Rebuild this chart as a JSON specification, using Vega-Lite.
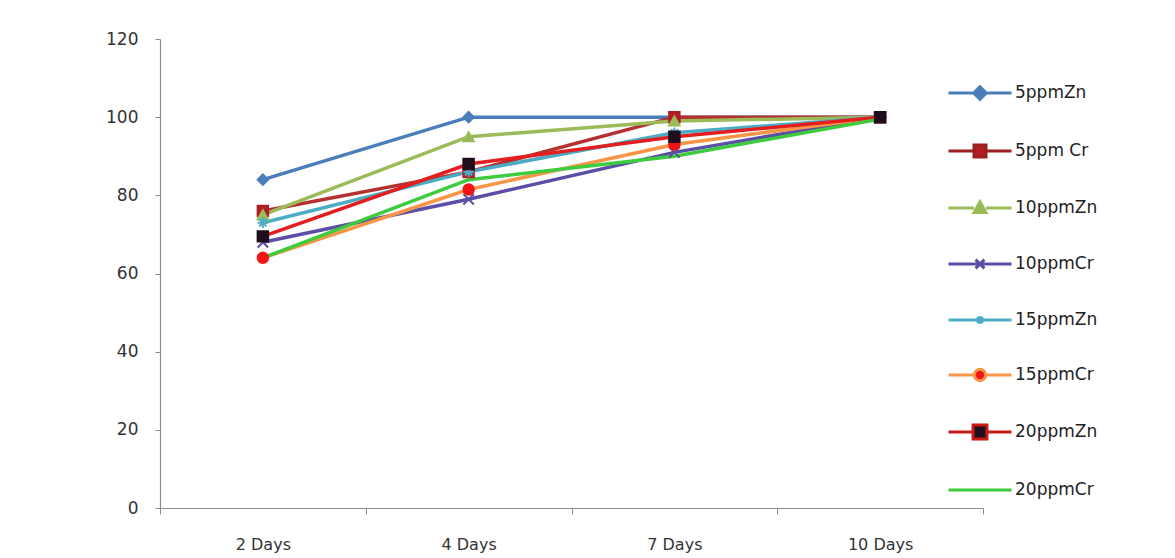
{
  "$schema": "https://vega.github.io/schema/vega-lite/v6.json",
  "autosize": {"type": "none"},
  "width": 823,
  "height": 469,
  "padding": {"left": 160, "top": 39, "right": 192, "bottom": 50},
  "background": "#ffffff",
  "config": {
    "view": {"stroke": null},
    "font": "DejaVu Sans",
    "axis": {"labelFont": "DejaVu Sans", "labelColor": "#333333", "domainColor": "#8c8c8c", "tickColor": "#8c8c8c", "grid": false, "title": null},
    "legend": {"symbolOpacity": 1}
  },
  "data": {
    "values": [
      {"series": "5ppmZn", "day": "2 Days", "value": 84},
      {"series": "5ppmZn", "day": "4 Days", "value": 100},
      {"series": "5ppmZn", "day": "7 Days", "value": 100},
      {"series": "5ppmZn", "day": "10 Days", "value": 100},
      {"series": "5ppm Cr", "day": "2 Days", "value": 76},
      {"series": "5ppm Cr", "day": "4 Days", "value": 86},
      {"series": "5ppm Cr", "day": "7 Days", "value": 100},
      {"series": "5ppm Cr", "day": "10 Days", "value": 100},
      {"series": "10ppmZn", "day": "2 Days", "value": 75},
      {"series": "10ppmZn", "day": "4 Days", "value": 95},
      {"series": "10ppmZn", "day": "7 Days", "value": 99},
      {"series": "10ppmZn", "day": "10 Days", "value": 100},
      {"series": "10ppmCr", "day": "2 Days", "value": 68},
      {"series": "10ppmCr", "day": "4 Days", "value": 79},
      {"series": "10ppmCr", "day": "7 Days", "value": 91},
      {"series": "10ppmCr", "day": "10 Days", "value": 100},
      {"series": "15ppmZn", "day": "2 Days", "value": 73},
      {"series": "15ppmZn", "day": "4 Days", "value": 86},
      {"series": "15ppmZn", "day": "7 Days", "value": 96},
      {"series": "15ppmZn", "day": "10 Days", "value": 100},
      {"series": "15ppmCr", "day": "2 Days", "value": 64},
      {"series": "15ppmCr", "day": "4 Days", "value": 81.5},
      {"series": "15ppmCr", "day": "7 Days", "value": 93},
      {"series": "15ppmCr", "day": "10 Days", "value": 100},
      {"series": "20ppmZn", "day": "2 Days", "value": 69.5},
      {"series": "20ppmZn", "day": "4 Days", "value": 88},
      {"series": "20ppmZn", "day": "7 Days", "value": 95},
      {"series": "20ppmZn", "day": "10 Days", "value": 100},
      {"series": "20ppmCr", "day": "2 Days", "value": 64},
      {"series": "20ppmCr", "day": "4 Days", "value": 84},
      {"series": "20ppmCr", "day": "7 Days", "value": 90},
      {"series": "20ppmCr", "day": "10 Days", "value": 99.5}
    ]
  },
  "encoding": {
    "x": {
      "field": "day", "type": "ordinal", "bandPosition": 0.5,
      "sort": ["2 Days", "4 Days", "7 Days", "10 Days"],
      "scale": {"type": "band", "paddingInner": 0, "paddingOuter": 0},
      "axis": {"labelAngle": 0, "tickBand": "extent", "tickSize": 6, "labelPadding": 22, "labelFontSize": 16, "domainWidth": 1.2}
    },
    "y": {
      "field": "value", "type": "quantitative",
      "scale": {"domain": [0, 120], "nice": false, "zero": true},
      "axis": {"values": [0, 20, 40, 60, 80, 100, 120], "tickSize": 5, "labelPadding": 17, "labelFontSize": 17, "domainWidth": 1.2}
    }
  },
  "layer": [
    {
      "mark": {"type": "line", "strokeWidth": 3.5},
      "encoding": {
        "stroke": {
          "field": "series", "type": "nominal", "legend": null,
          "scale": {
            "domain": ["5ppmZn", "5ppm Cr", "10ppmZn", "10ppmCr", "15ppmZn", "15ppmCr", "20ppmZn", "20ppmCr"],
            "range": ["#4a7ebb", "#b5312f", "#9bbb59", "#5b4ea6", "#4bacc6", "#f79646", "#e41e1e", "#3dcc3d"]
          }
        }
      }
    },
    {
      "transform": [{"filter": "datum.series !== '20ppmCr'"}],
      "mark": {"type": "point", "filled": true, "size": 110, "strokeWidth": 2, "opacity": 1},
      "encoding": {
        "fill": {
          "field": "series", "type": "nominal", "legend": null,
          "scale": {
            "domain": ["5ppmZn", "5ppm Cr", "10ppmZn", "10ppmCr", "15ppmZn", "15ppmCr", "20ppmZn", "20ppmCr"],
            "range": ["#4a7ebb", "#b01e23", "#9bbb59", "#5b4ea6", "#4bacc6", "#f51414", "#1e0e1e", "#3dcc3d"]
          }
        },
        "stroke": {
          "field": "series", "type": "nominal", "legend": null,
          "scale": {
            "domain": ["5ppmZn", "5ppm Cr", "10ppmZn", "10ppmCr", "15ppmZn", "15ppmCr", "20ppmZn", "20ppmCr"],
            "range": ["#4a7ebb", "#b01e23", "#9bbb59", "#5b4ea6", "#4bacc6", "#f51414", "#1e0e1e", "#3dcc3d"]
          }
        },
        "shape": {
          "field": "series", "type": "nominal", "legend": null,
          "scale": {
            "domain": ["5ppmZn", "5ppm Cr", "10ppmZn", "10ppmCr", "15ppmZn", "15ppmCr", "20ppmZn", "20ppmCr"],
            "range": ["diamond", "square", "triangle-up", "M-1,-1L1,1M-1,1L1,-1", "M-1,0H1M0,-1V1M-0.7,-0.7L0.7,0.7M-0.7,0.7L0.7,-0.7", "circle", "square", "circle"]
          }
        }
      }
    },
    {
      "transform": [{"filter": "datum.value < 0"}],
      "mark": {"type": "point", "filled": true, "strokeWidth": 3, "opacity": 1},
      "encoding": {
        "fill": {
          "field": "series", "type": "nominal",
          "scale": {
            "domain": ["5ppmZn", "5ppm Cr", "10ppmZn", "10ppmCr", "15ppmZn", "15ppmCr", "20ppmZn", "20ppmCr"],
            "range": ["#4a7ebb", "#b01e23", "#9bbb59", "#5b4ea6", "#4bacc6", "#f51414", "#1e0e1e", "#3dcc3d"]
          },
          "legend": {"orient": "none", "legendX": 787, "legendY": 21, "title": null, "symbolSize": 3969, "symbolStrokeWidth": 3, "symbolOpacity": 1, "labelFontSize": 17, "labelFont": "DejaVu Sans", "labelColor": "#222222", "rowPadding": 12, "labelOffset": 2}
        },
        "stroke": {
          "field": "series", "type": "nominal",
          "scale": {
            "domain": ["5ppmZn", "5ppm Cr", "10ppmZn", "10ppmCr", "15ppmZn", "15ppmCr", "20ppmZn", "20ppmCr"],
            "range": ["#4a7ebb", "#9e1f1f", "#9bbb59", "#5b4ea6", "#4bacc6", "#f79646", "#c81818", "#3dcc3d"]
          },
          "legend": {"orient": "none", "legendX": 787, "legendY": 21, "title": null, "symbolSize": 3969, "symbolStrokeWidth": 3, "symbolOpacity": 1, "labelFontSize": 17, "labelFont": "DejaVu Sans", "labelColor": "#222222", "rowPadding": 12, "labelOffset": 2}
        },
        "shape": {
          "field": "series", "type": "nominal",
          "scale": {
            "domain": ["5ppmZn", "5ppm Cr", "10ppmZn", "10ppmCr", "15ppmZn", "15ppmCr", "20ppmZn", "20ppmCr"],
            "range": [
              "M-1,0H-0.2M0.2,0H1M0,-0.2L0.2,0L0,0.2L-0.2,0Z",
              "M-1,0H-0.19M0.19,0H1M-0.19,-0.19H0.19V0.19H-0.19Z",
              "M-1,0H-0.19M0.19,0H1M0,-0.2L0.19,0.14H-0.19Z",
              "M-1,0H1M-0.14,-0.14L0.14,0.14M-0.14,0.14L0.14,-0.14",
              "M-1,0H1M0,-0.12V0.12M-0.1,-0.08L0.1,0.08M-0.1,0.08L0.1,-0.08",
              "M-1,0H-0.18M0.18,0H1M-0.18,0A0.18,0.18 0 1,0 0.18,0A0.18,0.18 0 1,0 -0.18,0Z",
              "M-1,0H-0.22M0.22,0H1M-0.22,-0.22H0.22V0.22H-0.22Z",
              "M-1,0H1"
            ]
          },
          "legend": {"orient": "none", "legendX": 787, "legendY": 21, "title": null, "symbolSize": 3969, "symbolStrokeWidth": 3, "symbolOpacity": 1, "labelFontSize": 17, "labelFont": "DejaVu Sans", "labelColor": "#222222", "rowPadding": 12, "labelOffset": 2}
        }
      }
    }
  ],
  "resolve": {
    "scale": {"fill": "independent", "stroke": "independent", "shape": "independent"}
  }
}
